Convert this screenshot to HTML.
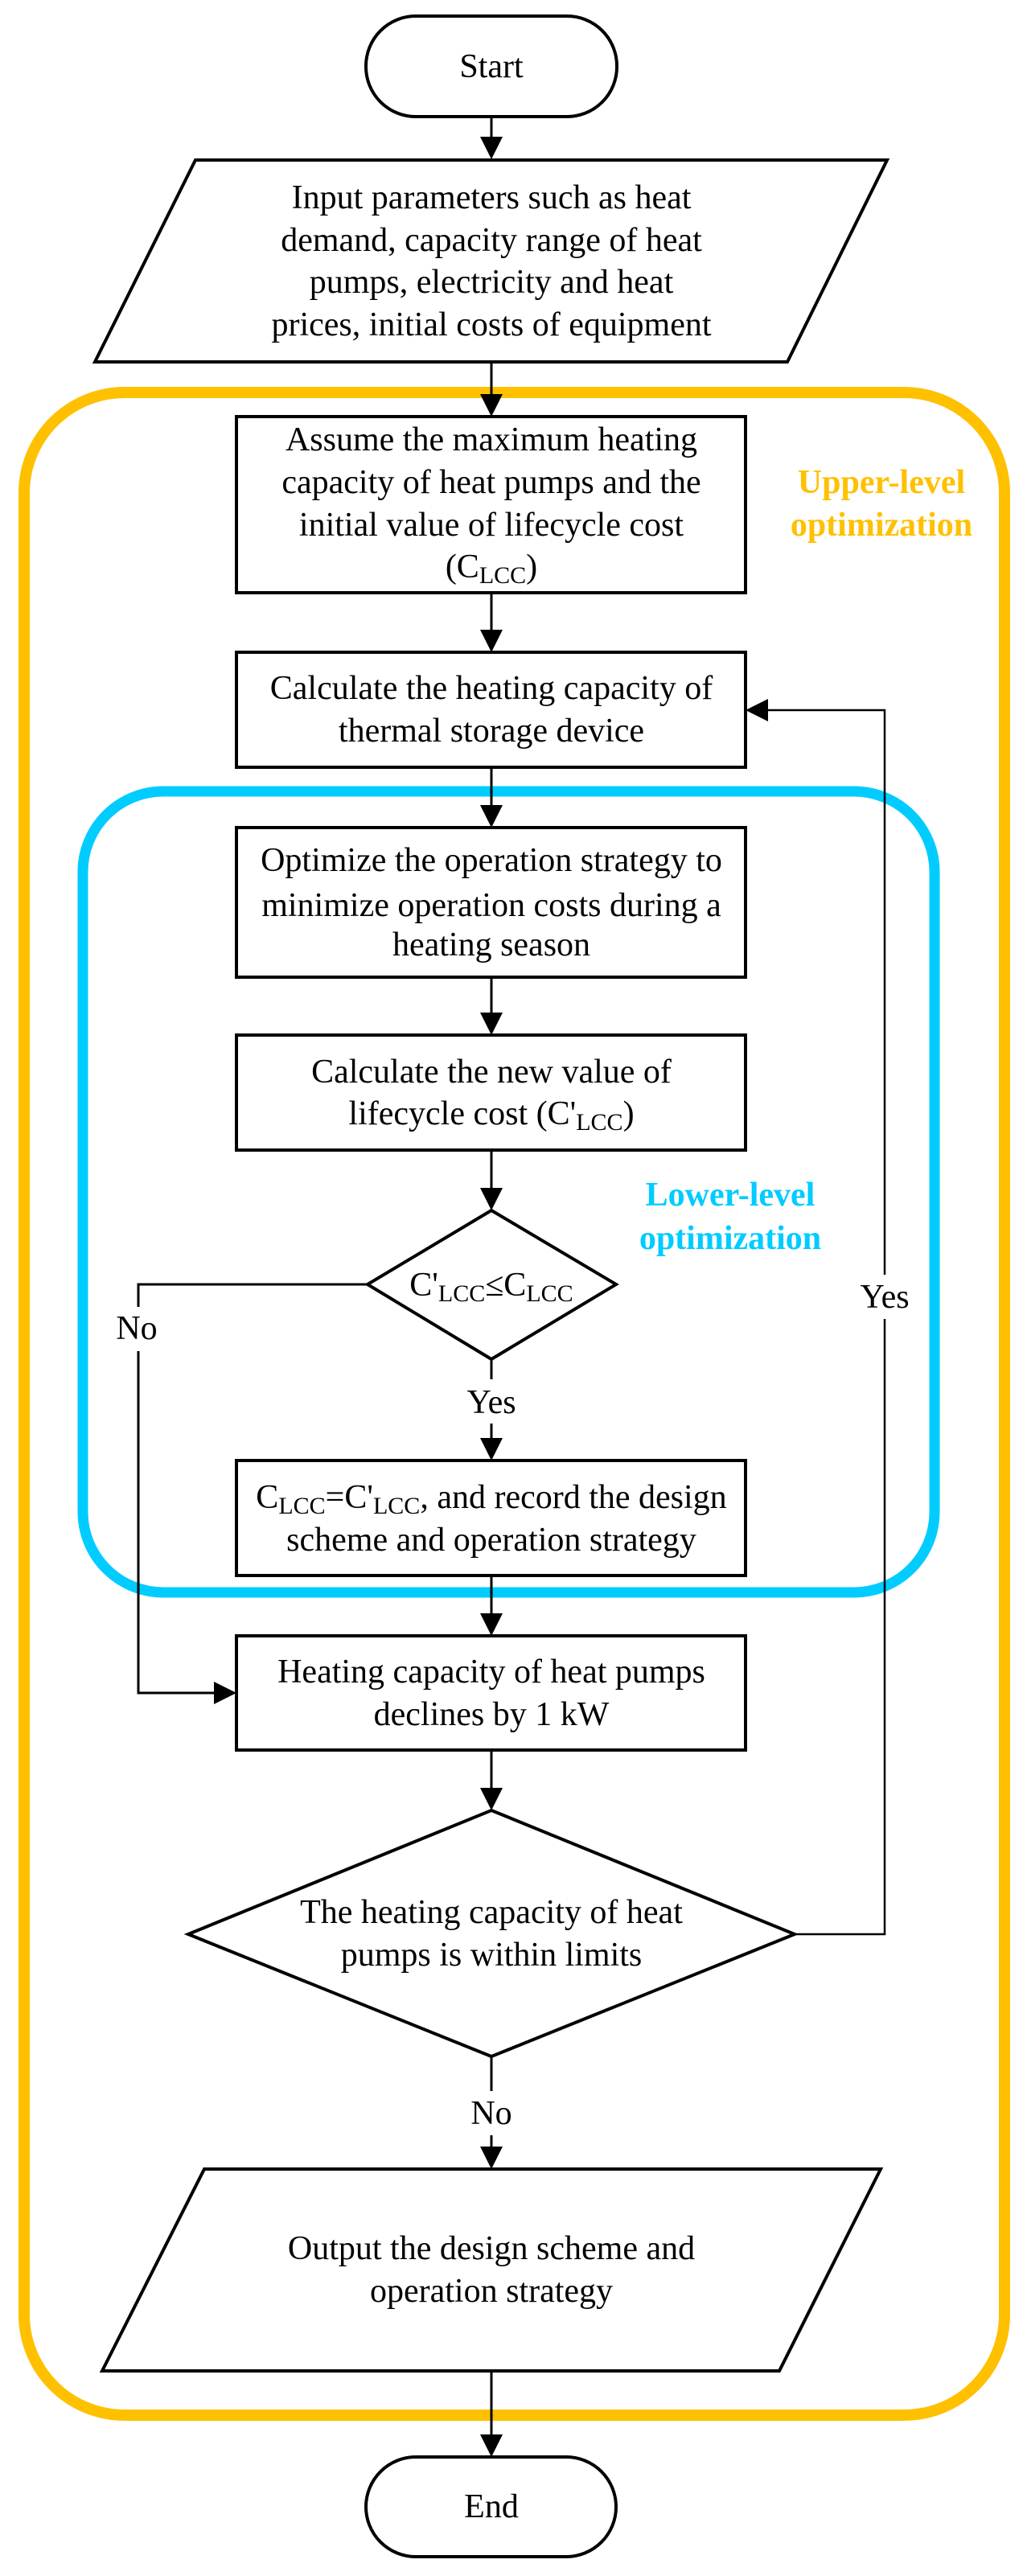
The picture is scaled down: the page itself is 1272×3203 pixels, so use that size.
<!DOCTYPE html>
<html><head><meta charset="utf-8"><style>
html,body{margin:0;padding:0;background:#fff;}
svg{display:block;}
text{font-family:"Liberation Serif","DejaVu Serif",serif;font-size:42px;fill:#000;text-anchor:middle;}
.b{stroke:#000;stroke-width:4;fill:#fff;}
.l{stroke:#000;stroke-width:3;fill:none;}
.t{stroke:#000;stroke-width:2.5;fill:none;}
.lab{font-weight:bold;font-size:42px;}
</style></head><body>
<svg width="1272" height="3203" viewBox="0 0 1272 3203" xmlns="http://www.w3.org/2000/svg">
<rect x="30" y="488" width="1219" height="2515" rx="125" ry="125" fill="none" stroke="#FFC000" stroke-width="14"/>
<rect x="103" y="984" width="1059" height="996" rx="100" ry="100" fill="none" stroke="#00CCFF" stroke-width="13"/>

<line class="l" x1="611" y1="144" x2="611" y2="172"/>
<polygon points="597,170 625,170 611,198"/>
<line class="l" x1="611" y1="450" x2="611" y2="492"/>
<polygon points="597,490 625,490 611,518"/>
<line class="l" x1="611" y1="737" x2="611" y2="785"/>
<polygon points="597,783 625,783 611,811"/>
<line class="l" x1="611" y1="954" x2="611" y2="1003"/>
<polygon points="597,1001 625,1001 611,1029"/>
<line class="l" x1="611" y1="1215" x2="611" y2="1261"/>
<polygon points="597,1259 625,1259 611,1287"/>
<line class="l" x1="611" y1="1430" x2="611" y2="1479"/>
<polygon points="597,1477 625,1477 611,1505"/>
<line class="l" x1="611" y1="1690" x2="611" y2="1715"/>
<line class="l" x1="611" y1="1770" x2="611" y2="1790"/>
<polygon points="597,1788 625,1788 611,1816"/>
<line class="l" x1="611" y1="1959" x2="611" y2="2008"/>
<polygon points="597,2006 625,2006 611,2034"/>
<line class="l" x1="611" y1="2176" x2="611" y2="2225"/>
<polygon points="597,2223 625,2223 611,2251"/>
<line class="l" x1="611" y1="2557" x2="611" y2="2600"/>
<line class="l" x1="611" y1="2655" x2="611" y2="2671"/>
<polygon points="597,2669 625,2669 611,2697"/>
<line class="l" x1="611" y1="2948" x2="611" y2="3029"/>
<polygon points="597,3027 625,3027 611,3055"/>
<polyline class="l" points="457,1597 172,1597 172,1625"/>
<polyline class="l" points="172,1680 172,2105 268,2105"/>
<polygon points="266,2091 266,2119 294,2105"/>
<polyline class="t" points="988,2405 1100,2405 1100,1640"/>
<polyline class="t" points="1100,1585 1100,883 953,883"/>
<polygon points="955,869 955,897 927,883"/>

<rect class="b" x="455" y="20" width="312" height="125" rx="62" ry="62"/>
<polygon class="b" points="243,199 1103,199 979,450 118,450"/>
<rect class="b" x="294" y="518" width="633" height="219"/>
<rect class="b" x="294" y="811" width="633" height="143"/>
<rect class="b" x="294" y="1029" width="633" height="186"/>
<rect class="b" x="294" y="1287" width="633" height="143"/>
<polygon class="b" points="611,1505 766,1597 611,1690 457,1597"/>
<rect class="b" x="294" y="1816" width="633" height="143"/>
<rect class="b" x="294" y="2034" width="633" height="142"/>
<polygon class="b" points="611,2251 988,2405 611,2557 234,2405"/>
<polygon class="b" points="254,2697 1095,2697 969,2948 127,2948"/>
<rect class="b" x="455" y="3055" width="311" height="124" rx="62" ry="62"/>

<text x="611" y="96">Start</text>
<text x="611" y="259">Input parameters such as heat</text>
<text x="611" y="312">demand, capacity range of heat</text>
<text x="611" y="364">pumps, electricity and heat</text>
<text x="611" y="417">prices, initial costs of equipment</text>

<text x="611" y="560">Assume the maximum heating</text>
<text x="611" y="613">capacity of heat pumps and the</text>
<text x="611" y="666">initial value of lifecycle cost</text>
<text x="611" y="718">(C<tspan font-size="30" dy="7">LCC</tspan><tspan dy="-7">)</tspan></text>

<text x="611" y="869">Calculate the heating capacity of</text>
<text x="611" y="922">thermal storage device</text>

<text x="611" y="1083">Optimize the operation strategy to</text>
<text x="611" y="1139">minimize operation costs during a</text>
<text x="611" y="1188">heating season</text>

<text x="611" y="1346">Calculate the new value of</text>
<text x="611" y="1398">lifecycle cost (C'<tspan font-size="30" dy="7">LCC</tspan><tspan dy="-7">)</tspan></text>

<text x="611" y="1611">C'<tspan font-size="30" dy="7">LCC</tspan><tspan dy="-7">≤C</tspan><tspan font-size="30" dy="7">LCC</tspan></text>
<text x="611" y="1757">Yes</text>
<text x="170" y="1665">No</text>
<text x="1100" y="1626">Yes</text>

<text x="611" y="1875">C<tspan font-size="30" dy="7">LCC</tspan><tspan dy="-7">=C'</tspan><tspan font-size="30" dy="7">LCC</tspan><tspan dy="-7">, and record the design</tspan></text>
<text x="611" y="1928">scheme and operation strategy</text>

<text x="611" y="2092">Heating capacity of heat pumps</text>
<text x="611" y="2145">declines by 1 kW</text>

<text x="611" y="2391">The heating capacity of  heat</text>
<text x="611" y="2444">pumps is within limits</text>
<text x="611" y="2641">No</text>

<text x="611" y="2809">Output the design scheme and</text>
<text x="611" y="2862">operation strategy</text>
<text x="611" y="3130">End</text>

<text class="lab" x="1096" y="613" style="fill:#FFC000">Upper-level</text>
<text class="lab" x="1096" y="666" style="fill:#FFC000">optimization</text>
<text class="lab" x="908" y="1499" style="fill:#00CCFF">Lower-level</text>
<text class="lab" x="908" y="1553" style="fill:#00CCFF">optimization</text>
</svg>
</body></html>
